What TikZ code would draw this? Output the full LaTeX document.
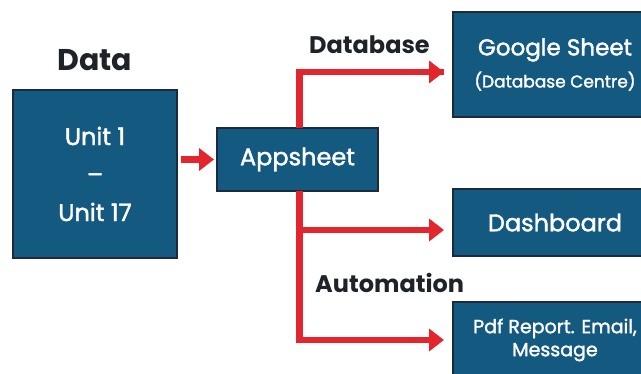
\documentclass[tikz,border=0pt]{standalone}
\usepackage{fontspec}
\setmainfont{Poppins}
\newfontfamily\medfont[FakeBold=1.6]{Poppins}
\usetikzlibrary{arrows.meta}
\definecolor{boxblue}{HTML}{145A80}
\definecolor{boxedge}{HTML}{1B2B3B}
\definecolor{arrred}{HTML}{E3262E}
\definecolor{headtxt}{HTML}{1E2329}
\begin{document}
\begin{tikzpicture}[x=1pt,y=-1pt,
  bluebox/.style={draw=boxedge,line width=2pt,fill=boxblue,text=white,align=center,inner sep=0pt},
  headlabel/.style={text=headtxt,font=\bfseries\fontsize{24}{28}\selectfont,inner sep=0pt},
  redarrow/.style={draw=arrred,line width=6.5pt,-{Triangle[length=15pt,width=22pt]}},
  redline/.style={draw=arrred,line width=6.5pt}]
\useasboundingbox (0,0) rectangle (641,374);
\clip (0,0) rectangle (641,374);
\fill[white] (0,0) rectangle (641,374);
% boxes
\node[bluebox,minimum width=164pt,minimum height=168pt,font=\medfont\fontsize{24}{38}\selectfont] (unit) at (95,174) {Unit 1\\–\\Unit 17};
\node[bluebox,minimum width=161pt,minimum height=63pt,font=\medfont\fontsize{24}{28}\selectfont] (app) at (297.5,159.5) {Appsheet};
\node[bluebox,minimum width=204pt,minimum height=105pt,font=\medfont] (gs) at (555,64.5) {{\fontsize{23}{28}\selectfont Google Sheet}\\[9pt]{\fontsize{17}{20}\selectfont (Database Centre)}};
\node[bluebox,minimum width=204pt,minimum height=67pt,font=\medfont\fontsize{24}{28}\selectfont] (dash) at (555,222.5) {Dashboard};
\node[bluebox,minimum width=204pt,minimum height=76pt,font=\medfont\fontsize{19}{23}\selectfont] (pdf) at (555,340) {Pdf Report. Email,\\Message};
% labels
\node[headlabel,font=\bfseries\fontsize{30}{34}\selectfont] (datalbl) at (95,60) {Data};
\node[headlabel,anchor=west] (dblbl) at (309,45) {Database};
\node[headlabel,anchor=west] (autolbl) at (315,283) {Automation};
% connector coordinates
\coordinate (top) at (299.5,72);
\coordinate (bot) at (299.5,340);
\coordinate (gsin) at (444,72);
\coordinate (dashin) at (444,230);
\coordinate (pdfin) at (444,340);
\coordinate (appin) at (214,159.5);
\coordinate (unitout) at (181,159.5);
% connectors
\draw[redline,line join=miter] ([yshift=-1pt]app.north -| top) -- (top) -- ([xshift=0pt]top -| gsin);
\draw[redarrow] ([xshift=-3.25pt]top) -- (gsin);
\draw[redline,line join=miter] ([yshift=1pt]app.south -| bot) -- (bot);
\draw[redarrow] ([xshift=-3.25pt]bot) -- (pdfin);
\draw[redarrow] (dashin -| bot) -- (dashin);
\draw[redarrow] (unitout) -- (appin);
\end{tikzpicture}
\end{document}
